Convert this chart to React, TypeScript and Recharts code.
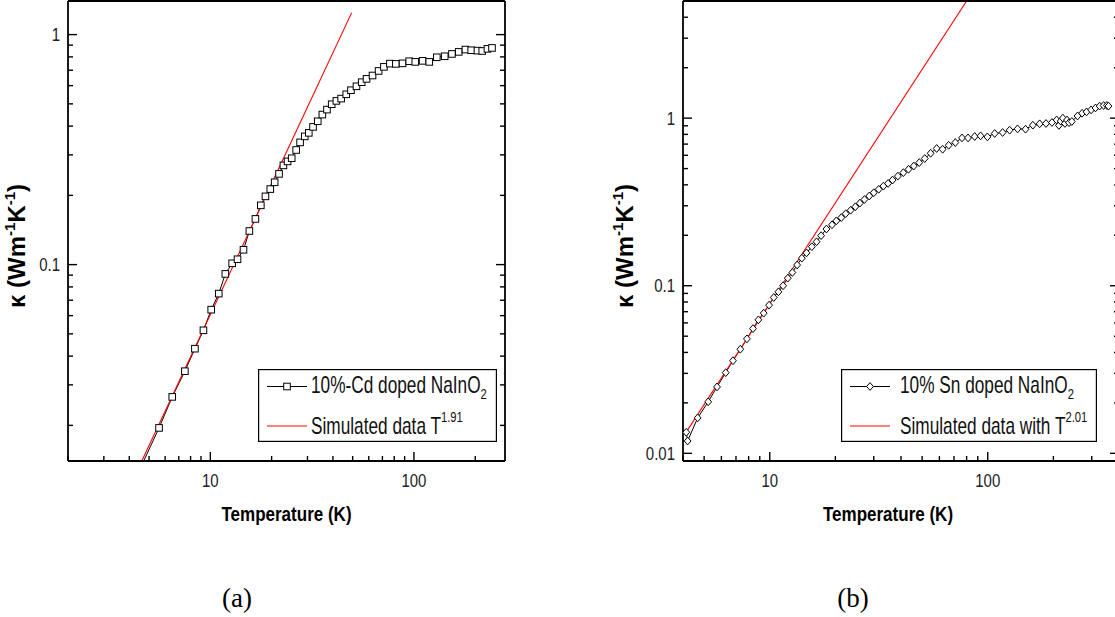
import React from "react";
import { ComposedChart, Label, Legend, Line, XAxis, YAxis } from "recharts";

// (a) 10%-Cd doped NaInO2
const cdTemp = [
  4.6, 5.6, 6.5, 7.5, 8.4, 9.25, 10.1, 11.0, 11.85, 12.8, 13.6, 14.55, 15.55,
  16.65, 17.7, 18.65, 19.7, 20.7, 21.75, 22.85, 23.95, 25.1, 26.4, 27.6, 29.1,
  30.45, 31.95, 33.7, 35.5, 37.4, 39.45, 41.6, 43.9, 46.5, 49.05, 52.2, 55.4,
  58.5, 62.6, 67.05, 71.2, 76.2, 81.5, 87.9, 94.8, 101.5, 110.3, 118.9, 129.5,
  141.6, 153.7, 165.9, 179, 191, 205, 216.5, 229.6, 241.7,
];
const cdKappa = [
  0.0134, 0.0195, 0.0266, 0.0344, 0.0431, 0.0518, 0.0637, 0.0748, 0.0911,
  0.1013, 0.1055, 0.116, 0.14, 0.158, 0.181, 0.198, 0.213, 0.228, 0.248, 0.27,
  0.281, 0.29, 0.315, 0.34, 0.361, 0.374, 0.397, 0.42, 0.449, 0.472, 0.498,
  0.515, 0.527, 0.55, 0.573, 0.596, 0.621, 0.642, 0.664, 0.695, 0.724, 0.748,
  0.746, 0.75, 0.766, 0.761, 0.769, 0.761, 0.797, 0.805, 0.824, 0.841, 0.861,
  0.855, 0.852, 0.849, 0.867, 0.875,
];
const cdFitTemp = [4.62, 49.4];
const cdFitKappa = [0.01406, 1.243];

// (b) 10% Sn doped NaInO2
const snTemp = [
  4.14, 4.2, 4.67, 5.22, 5.73, 6.28, 6.78, 7.33, 7.86, 8.38, 8.87, 9.38, 9.93,
  10.43, 10.96, 11.51, 12.1, 12.7, 13.35, 14.03, 14.74, 15.6, 16.4, 17.2, 18.2,
  19.3, 20.2, 21.3, 22.3, 23.5, 24.7, 25.9, 27.2, 28.6, 30.0, 31.6, 33.2, 34.9,
  36.6, 38.7, 41.0, 43.3, 45.8, 48.5, 51.4, 54.7, 58.3, 62.1, 66.2, 71.0, 76.2,
  81.2, 87.1, 92.7, 99.6, 107.6, 117, 126, 137, 149, 161, 173, 185, 197, 207,
  212, 216, 221, 226, 231, 236, 243, 258, 271, 284, 298, 312, 326, 340, 352,
  358,
];
const snKappa = [
  0.01336, 0.01185, 0.01627, 0.0203, 0.0249, 0.0303, 0.0357, 0.0418, 0.0482,
  0.0555, 0.0626, 0.0686, 0.0766, 0.0851, 0.092, 0.1, 0.111, 0.12, 0.133,
  0.146, 0.157, 0.171, 0.183, 0.199, 0.218, 0.231, 0.244, 0.255, 0.269, 0.282,
  0.296, 0.311, 0.327, 0.343, 0.359, 0.376, 0.393, 0.408, 0.427, 0.451, 0.473,
  0.495, 0.518, 0.543, 0.574, 0.617, 0.659, 0.652, 0.689, 0.715, 0.762, 0.762,
  0.777, 0.784, 0.773, 0.81, 0.821, 0.848, 0.863, 0.859, 0.908, 0.925, 0.929,
  0.942, 0.975, 0.905, 0.96, 1.0, 0.93, 0.975, 0.94, 0.955, 1.03, 1.07, 1.09,
  1.12, 1.15, 1.18, 1.19, 1.19, 1.18,
];
const snFitTemp = [4.11, 80];
const snFitKappa = [0.0132, 5.0];

// axis ticks
const cdXTicks = [2, 3, 4, 5, 6, 7, 8, 9, 10, 20, 30, 40, 50, 60, 70, 80, 90, 100, 200];
const snXTicks = [4, 5, 6, 7, 8, 9, 10, 20, 30, 40, 50, 60, 70, 80, 90, 100, 200, 300];
const cdYTicks = [0.02, 0.03, 0.04, 0.05, 0.06, 0.07, 0.08, 0.09, 0.1, 0.2, 0.3, 0.4, 0.5, 0.6, 0.7, 0.8, 0.9, 1];
const snYTicks = [0.01, 0.02, 0.03, 0.04, 0.05, 0.06, 0.07, 0.08, 0.09, 0.1, 0.2, 0.3, 0.4, 0.5, 0.6, 0.7, 0.8, 0.9, 1, 2, 3, 4];
const majorTicks = [0.01, 0.1, 1, 10, 100];

// no condensed font installed: squeeze Liberation Sans horizontally instead
const SANS = '"Liberation Sans", Arial, sans-serif';
const SQUEEZE = 0.81;
const AXIS = { stroke: "#000", strokeWidth: 1.8 };

const zip = (xs: number[], ys: number[]) => xs.map((T, i) => ({ T, k: ys[i] }));

const isMajor = (v: number) => majorTicks.includes(v);

function Narrow({ x, y, anchor = "start", size, bold, sx = SQUEEZE, fill = "#111", children }: any) {
  return (
    <g transform={`translate(${x},${y}) scale(${sx},1)`}>
      <text x={0} y={0} textAnchor={anchor} fontFamily={SANS} fontSize={size} fontWeight={bold ? "bold" : "normal"} fill={fill}>
        {children}
      </text>
    </g>
  );
}

const bottomTick = (props: any) => {
  const { x, y, payload } = props;
  const m = isMajor(payload.value);
  return (
    <g>
      <line x1={x} x2={x} y1={y} y2={y - (m ? 9 : 5)} stroke="#000" strokeWidth={1.4} />
      {m && (
        <Narrow x={x} y={y + 25.5} anchor="middle" size={18.5} fill="#222">
          {payload.value}
        </Narrow>
      )}
    </g>
  );
};
const topTick = (props: any) => {
  const { x, y, payload } = props;
  const m = isMajor(payload.value);
  return <line x1={x} x2={x} y1={y} y2={y + (m ? 9 : 5)} stroke="#000" strokeWidth={1.4} />;
};
const leftTick = (props: any) => {
  const { x, y, payload } = props;
  const m = isMajor(payload.value);
  return (
    <g>
      <line x1={x} x2={x + (m ? 9 : 5)} y1={y} y2={y} stroke="#000" strokeWidth={1.4} />
      {m && (
        <Narrow x={x - 8} y={y + 6.7} anchor="end" size={18.5} fill="#222">
          {payload.value}
        </Narrow>
      )}
    </g>
  );
};
const rightTick = (props: any) => {
  const { x, y, payload } = props;
  const m = isMajor(payload.value);
  return <line x1={x} x2={x - (m ? 9 : 5)} y1={y} y2={y} stroke="#000" strokeWidth={1.4} />;
};

const squareDot = (props: any) => {
  const { cx, cy, index } = props;
  if (cx == null || cy == null) return <g key={index} />;
  return <rect key={index} x={cx - 3.3} y={cy - 3.3} width={6.6} height={6.6} fill="#fff" stroke="#000" strokeWidth={1} />;
};
const diamondDot = (props: any) => {
  const { cx, cy, index } = props;
  if (cx == null || cy == null) return <g key={index} />;
  return (
    <path
      key={index}
      d={`M${cx},${cy - 3.9}L${cx + 3.4},${cy}L${cx},${cy + 3.9}L${cx - 3.4},${cy}Z`}
      fill="#fff"
      stroke="#000"
      strokeWidth={1}
    />
  );
};

interface PanelProps {
  left: number;
  width: number;
  marginRight: number;
  yAxisWidth: number;
  xDomain: [number, number];
  yDomain: [number, number];
  xTicks: number[];
  yTicks: number[];
  data: { T: number; k: number }[];
  fit: { T: number; k: number }[];
  dot: (p: any) => React.ReactElement;
  seriesName: string;
  fitName: string;
  fitPower: string;
  legendLeft: number;
  legendWidth: number;
  legendTextX: number;
  xLabelDx: number;
  yLabelInset: number;
  caption: string;
  captionX: number;
}

function Panel(p: PanelProps) {
  const LegendBox = () => (
    <svg width={p.legendWidth} height={73} style={{ display: "block" }}>
      <rect x={0.6} y={0.6} width={p.legendWidth - 1.2} height={71.8} fill="#fff" stroke="#000" strokeWidth={1.2} />
      <line x1={9} x2={49} y1={17.5} y2={17.5} stroke="#000" strokeWidth={1} />
      {p.dot({ cx: 29, cy: 17.5, index: 0 })}
      <Narrow x={p.legendTextX} y={23.5} size={23} sx={0.75}>
        {p.seriesName}
        <tspan fontSize={15} dy={6}>2</tspan>
      </Narrow>
      <line x1={9} x2={49} y1={57} y2={57} stroke="#ff0000" strokeWidth={1} />
      <Narrow x={p.legendTextX} y={64.5} size={23} sx={0.75}>
        {p.fitName}
        <tspan fontSize={15} dy={-12}>{p.fitPower}</tspan>
      </Narrow>
    </svg>
  );

  return (
    <div style={{ position: "absolute", left: p.left, top: 0 }}>
      <ComposedChart width={p.width} height={540} margin={{ top: 1, right: p.marginRight, bottom: 9, left: 0 }}>
        <XAxis
          xAxisId="b"
          dataKey="T"
          type="number"
          scale="log"
          domain={p.xDomain}
          allowDataOverflow
          ticks={p.xTicks}
          interval={0}
          height={70}
          tickSize={0}
          tickMargin={0}
          tickLine={false}
          axisLine={AXIS}
          tick={bottomTick}
        >
          <Label
            content={({ viewBox }: any) => (
              <Narrow
                x={viewBox.x + viewBox.width / 2 + p.xLabelDx}
                y={viewBox.y + 59.5}
                anchor="middle"
                size={20.5}
                bold
                sx={0.83}
                fill="#000"
              >
                Temperature (K)
              </Narrow>
            )}
          />
        </XAxis>
        <XAxis
          xAxisId="t"
          orientation="top"
          mirror
          type="number"
          scale="log"
          domain={p.xDomain}
          allowDataOverflow
          ticks={p.xTicks}
          interval={0}
          tickSize={0}
          tickMargin={0}
          tickLine={false}
          axisLine={AXIS}
          tick={topTick}
        />
        <YAxis
          yAxisId="l"
          dataKey="k"
          type="number"
          scale="log"
          domain={p.yDomain}
          allowDataOverflow
          ticks={p.yTicks}
          interval={0}
          width={p.yAxisWidth}
          tickSize={0}
          tickMargin={0}
          tickLine={false}
          axisLine={AXIS}
          tick={leftTick}
        >
          <Label
            content={({ viewBox }: any) => {
              const x = viewBox.x + viewBox.width - p.yLabelInset;
              const y = viewBox.y + 307;
              return (
                <text
                  transform={`translate(${x},${y}) rotate(-90)`}
                  textAnchor="start"
                  fontFamily={SANS}
                  fontWeight="bold"
                  fontSize={24}
                  fill="#000"
                >
                  κ (Wm<tspan fontSize={15} dy={-10}>-1</tspan>
                  <tspan dy={10}>K</tspan>
                  <tspan fontSize={15} dy={-10}>-1</tspan>
                  <tspan dy={10}>)</tspan>
                </text>
              );
            }}
          />
        </YAxis>
        <YAxis
          yAxisId="r"
          orientation="right"
          mirror
          type="number"
          scale="log"
          domain={p.yDomain}
          allowDataOverflow
          ticks={p.yTicks}
          interval={0}
          tickSize={0}
          tickMargin={0}
          tickLine={false}
          axisLine={AXIS}
          tick={rightTick}
        />
        <Line
          xAxisId="b"
          yAxisId="l"
          data={p.data}
          dataKey="k"
          stroke="#000"
          strokeWidth={1}
          dot={p.dot}
          isAnimationActive={false}
        />
        <Line
          xAxisId="b"
          yAxisId="l"
          data={p.fit}
          dataKey="k"
          stroke="#ff0000"
          strokeWidth={1.1}
          dot={false}
          isAnimationActive={false}
        />
        <Legend
          layout="vertical"
          align="center"
          verticalAlign="middle"
          content={() => <LegendBox />}
          wrapperStyle={{ left: p.legendLeft, top: 369, width: p.legendWidth, height: 73 }}
        />
      </ComposedChart>
      <div
        style={{
          position: "absolute",
          left: p.captionX - 50,
          top: 583,
          width: 100,
          textAlign: "center",
          fontFamily: '"Liberation Serif", serif',
          fontSize: 27,
          lineHeight: "30px",
          color: "#000",
        }}
      >
        {p.caption}
      </div>
    </div>
  );
}

export default function App() {
  return (
    <div
      style={{
        position: "absolute",
        left: 0,
        top: 0,
        width: 1115,
        height: 617,
        overflow: "hidden",
        background: "#fff",
      }}
    >
      <Panel
        left={0}
        width={520}
        marginRight={15}
        yAxisWidth={68}
        xDomain={[2, 280]}
        yDomain={[0.014, 1.4]}
        xTicks={cdXTicks}
        yTicks={cdYTicks}
        data={zip(cdTemp, cdKappa)}
        fit={zip(cdFitTemp, cdFitKappa)}
        dot={squareDot}
        seriesName="10%-Cd doped NaInO"
        fitName="Simulated data T"
        fitPower="1.91"
        legendLeft={258}
        legendWidth={239}
        legendTextX={53}
        xLabelDx={0}
        yLabelInset={43}
        caption="(a)"
        captionX={237}
      />
      <Panel
        left={600}
        width={530}
        marginRight={11}
        yAxisWidth={83}
        xDomain={[4, 400]}
        yDomain={[0.009, 5]}
        xTicks={snXTicks}
        yTicks={snYTicks}
        data={zip(snTemp, snKappa)}
        fit={zip(snFitTemp, snFitKappa)}
        dot={diamondDot}
        seriesName="10% Sn doped NaInO"
        fitName="Simulated data with T"
        fitPower="2.01"
        legendLeft={241}
        legendWidth={256}
        legendTextX={59}
        xLabelDx={-13}
        yLabelInset={50}
        caption="(b)"
        captionX={253}
      />
    </div>
  );
}
